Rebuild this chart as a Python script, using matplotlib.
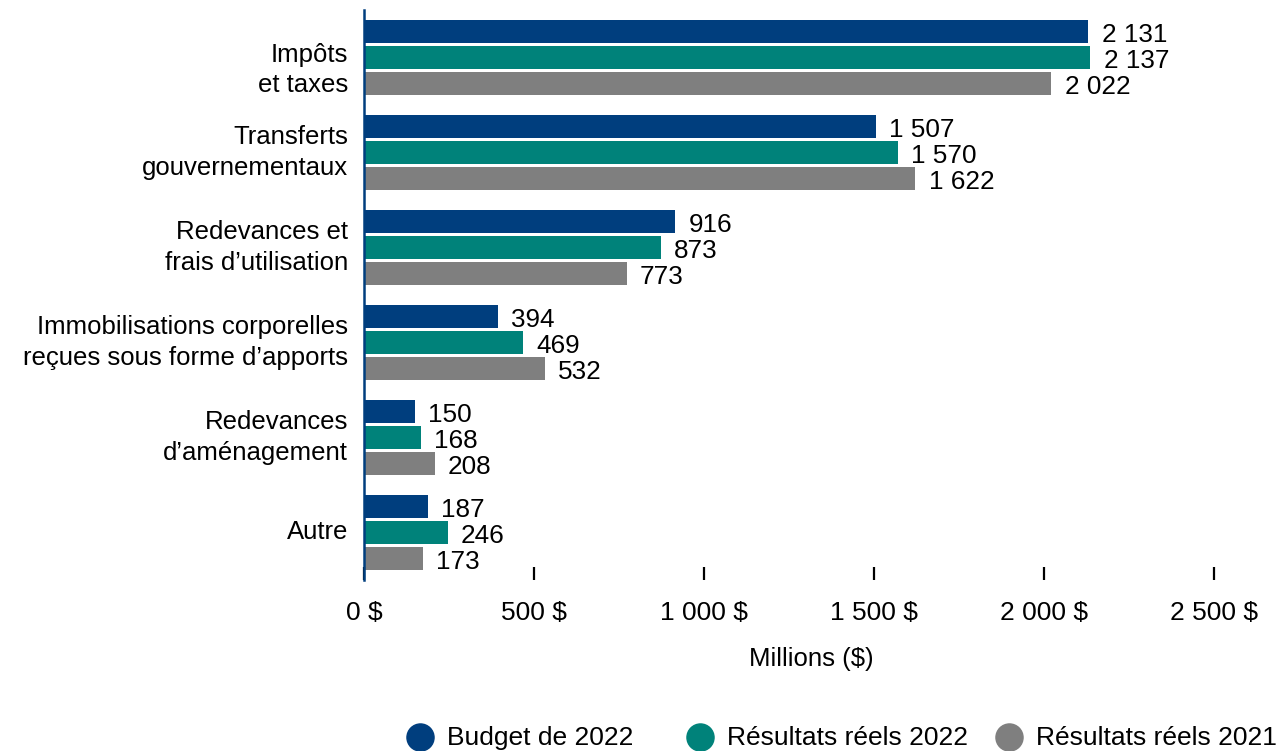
import matplotlib.pyplot as plt
import matplotlib.transforms as mtransforms
import numpy as np

plt.rcParams['font.family'] = ['Liberation Sans', 'DejaVu Sans']

categories = ["Impôts\net taxes", "Transferts\ngouvernementaux", "Redevances et\nfrais d\u2019utilisation",
              "Immobilisations corporelles\nreçues sous forme d\u2019apports", "Redevances\nd\u2019aménagement", "Autre"]
budget_2022 = [2131, 1507, 916, 394, 150, 187]
reels_2022 = [2137, 1570, 873, 469, 168, 246]
reels_2021 = [2022, 1622, 773, 532, 208, 173]
series_names = ["Budget de 2022", "Résultats réels 2022", "Résultats réels 2021"]
colors = ["#003E7E", "#00827A", "#7F7F7F"]

def fmt(v):
    return f"{v:,}".replace(",", " ")

W, H = 1276, 751
fig = plt.figure(figsize=(W / 100, H / 100), dpi=100)
ax = fig.add_axes([0.28527, 0.2277, 0.70063, 0.75899])

y = np.arange(len(categories))
h = 0.24
step = 0.272
for i, (vals, c) in enumerate(zip([budget_2022, reels_2022, reels_2021], colors)):
    pos = y + (i - 1) * step
    ax.barh(pos, vals, height=h, color=c, label=series_names[i])
    for p, v in zip(pos, vals):
        ax.annotate(fmt(v), (v, p), xytext=(9.5, -2.5), textcoords="offset points",
                    va="center", ha="left", fontsize=18.8)

ax.set_ylim(5.5, -0.5)
ax.set_xlim(0, 2630)
ax.set_yticks([])

# category names as plain text left of the spine
lab_tr = mtransforms.blended_transform_factory(ax.transAxes, ax.transData)
for k, (yy, name) in enumerate(zip(y, categories)):
    tr = lab_tr
    if k == 0:
        tr = lab_tr + mtransforms.ScaledTranslation(0, -9 / 72, fig.dpi_scale_trans)
    ax.text(-0.018, yy, name, transform=tr, ha="right", va="center",
            fontsize=18.5, linespacing=1.32)

ticks = [0, 500, 1000, 1500, 2000, 2500]
ax.set_xticks(ticks)
ax.set_xticklabels([fmt(t) + " $" for t in ticks], fontsize=19)
ax.tick_params(axis="x", direction="in", length=9.5, width=1.6, pad=15)
ax.set_xlabel("Millions ($)", fontsize=18.5, labelpad=16)

for s in ["top", "right", "bottom"]:
    ax.spines[s].set_visible(False)
ax.spines["left"].set_color("#003E7E")
ax.spines["left"].set_linewidth(1.8)

# legend row along the bottom: circle + label for each series
leg_x = [420, 700, 1009]
leg_y = 1 - 737 / H
for lx, name, c in zip(leg_x, series_names, colors):
    fig.add_artist(plt.Line2D([lx / W], [leg_y], transform=fig.transFigure, marker="o",
                              markersize=19.5, color=c, linestyle=""))
    fig.text((lx + 27) / W, 1 - 745 / H, name, fontsize=19, ha="left", va="baseline")

fig.savefig("out.png", dpi=100)
